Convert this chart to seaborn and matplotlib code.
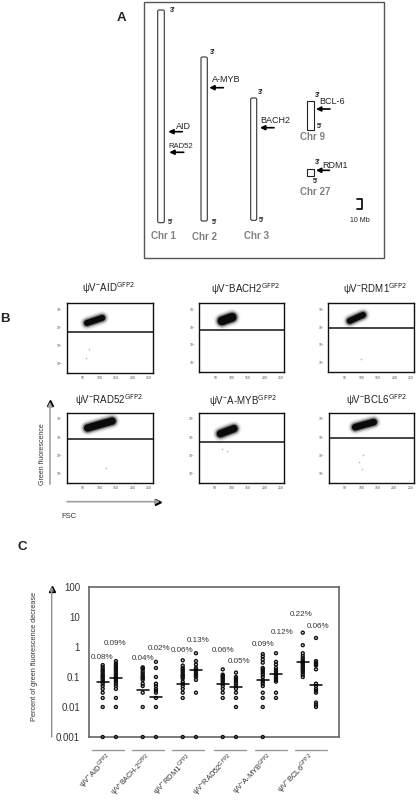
import matplotlib

matplotlib.use("Agg")
import matplotlib.pyplot as plt
from matplotlib.patches import FancyBboxPatch, Rectangle
import pandas as pd
import seaborn as sns

W, H = 417, 800

# panel A, all in reference pixels
chrom_names = ["Chr 1", "Chr 2", "Chr 3", "Chr 9", "Chr 27"]
chrom_left = [157.7, 201, 250.7, 307.3, 307.3]
chrom_right = [164.3, 207.3, 256.7, 313.7, 313.7]
chrom_top = [10, 57, 98, 101.3, 169.3]
chrom_bottom = [222.7, 221, 220.3, 129.7, 175.7]
chrom_label_x = [163.3, 204.7, 256.7, 313, 315]
chrom_label_y = [236.3, 237, 235.7, 137, 192.3]
three_x = [169.7, 210, 257.7, 315, 315]
three_y = [10, 52.7, 92.3, 95.3, 162.7]
five_x = [167.7, 212, 259.3, 316.7, 313.3]
five_y = [222.3, 222.3, 220, 127, 181.3]
genes = ["AID", "RAD52", "A-MYB", "BACH2", "BCL-6", "RDM1"]
gene_x = [175.7, 168, 212.3, 260.7, 319.3, 322.7]
gene_y = [126.7, 146, 80, 120.7, 101.7, 165]
gene_size = [6.5, 5.5, 6.5, 6.5, 6.5, 6.5]
arrow_tip = [168.3, 169.3, 209.3, 260, 316, 316]
arrow_tail = [182.3, 183.7, 223.3, 274, 330, 329.5]
arrow_y = [131.7, 152.3, 87.7, 127.7, 109, 170.3]

# panel B
flow_titles = ["AID", "BACH2", "RDM1", "RAD52", "A-MYB", "BCL6"]
flow_title_x = [109, 245.7, 375.7, 109, 243, 376.7]
flow_title_y = [288, 289, 289, 400, 401, 400]
flow_left = [66.5, 199, 328.3, 66.5, 198.7, 328.7]
flow_right = [152.5, 284.3, 414.3, 152.5, 284.3, 414]
flow_top = [303.3, 303, 303, 412.7, 412.7, 412.7]
flow_bottom = [373.3, 372.5, 372.5, 483.3, 483, 483]
gate_log = [3.74, 3.80, 3.91, 3.89, 3.72, 3.94]
cloud_fsc = [[62, 85, 108], [70, 85, 101], [65, 85, 105], [64, 100, 138], [66, 86, 107], [81, 108, 137]]
cloud_log = [[4.24, 4.38, 4.52], [4.33, 4.43, 4.53], [4.33, 4.50, 4.66], [4.49, 4.68, 4.87], [4.17, 4.31, 4.45], [4.53, 4.67, 4.81]]
cloud_width = [5.0, 7.0, 5.0, 6.0, 6.0, 5.5]
stray_fsc = [[68, 58], [], [98], [118], [72, 85], [105, 92, 100]]
stray_log = [[2.8, 2.3], [], [2.2], [2.3], [3.3, 3.2], [3.0, 2.6, 2.2]]
fsc_ticks = [50, 100, 150, 200, 250]
log_ticks = [2, 3, 4, 5]

# panel C
groups = ["AID", "BACH-2", "RDM1", "RAD52", "A-MYB", "BCL6"]
series_a = [
    [0.001, 0.01, 0.02, 0.03, 0.04, 0.05, 0.06, 0.07, 0.08, 0.09, 0.1, 0.11, 0.12, 0.14, 0.16, 0.18, 0.21, 0.25],
    [0.001, 0.01, 0.03, 0.05, 0.06, 0.08, 0.09, 0.1, 0.11, 0.13, 0.15, 0.18, 0.2, 0.21],
    [0.001, 0.02, 0.03, 0.04, 0.05, 0.06, 0.07, 0.09, 0.1, 0.11, 0.12, 0.14, 0.16, 0.18, 0.2, 0.24, 0.36],
    [0.001, 0.02, 0.03, 0.04, 0.05, 0.06, 0.07, 0.08, 0.09, 0.1, 0.11, 0.12, 0.18],
    [0.001, 0.01, 0.02, 0.03, 0.05, 0.06, 0.07, 0.08, 0.1, 0.12, 0.14, 0.16, 0.18, 0.2, 0.3, 0.38, 0.48, 0.58],
    [0.1, 0.12, 0.14, 0.16, 0.18, 0.2, 0.22, 0.25, 0.28, 0.3, 0.32, 0.36, 0.42, 0.5, 0.62, 1.15, 3.0],
]
series_b = [
    [0.001, 0.01, 0.02, 0.04, 0.05, 0.06, 0.07, 0.08, 0.09, 0.1, 0.11, 0.12, 0.14, 0.16, 0.18, 0.2, 0.22, 0.25, 0.28, 0.34],
    [0.001, 0.01, 0.02, 0.03, 0.035, 0.04, 0.05, 0.06, 0.1, 0.2, 0.32],
    [0.001, 0.03, 0.08, 0.1, 0.11, 0.12, 0.14, 0.16, 0.18, 0.2, 0.26, 0.34, 0.62],
    [0.001, 0.01, 0.02, 0.03, 0.04, 0.05, 0.06, 0.07, 0.08, 0.09, 0.1, 0.14],
    [0.02, 0.03, 0.07, 0.08, 0.09, 0.1, 0.11, 0.13, 0.15, 0.17, 0.2, 0.26, 0.32, 0.62],
    [0.01, 0.012, 0.014, 0.03, 0.035, 0.04, 0.05, 0.06, 0.18, 0.24, 0.26, 0.28, 0.3, 0.34, 2.0],
]
median_a = [0.07, 0.036, 0.058, 0.06, 0.08, 0.31]
median_b = [0.09, 0.021, 0.17, 0.047, 0.125, 0.055]
pct_labels = ["0.08%", "0.09%", "0.04%", "0.02%", "0.06%", "0.13%", "0.06%", "0.05%", "0.09%", "0.12%", "0.22%", "0.06%"]
pct_x = [102, 115, 142.7, 159, 182, 198.3, 222.7, 238.7, 262.7, 281.7, 301, 318.3]
pct_y = [657.3, 643.3, 658.3, 648.7, 650.7, 641, 650, 661.3, 644.3, 632.7, 615, 626]
y_ticks = [0.001, 0.01, 0.1, 1, 10, 100]
y_tick_labels = ["0.001", "0.01", "0.1", "1", "10", "100"]
line_left = [92.3, 132, 172.3, 214.3, 255, 295.3]
line_right = [124, 164, 204, 246, 286.7, 327]
name_x = [110.7, 150, 191.3, 232.3, 271.7, 313]
name_size = [5.6, 5.1, 5.6, 5.4, 5.4, 5.6]


def axes_px(fig, left, right, top, bottom):
    return fig.add_axes([left / W, 1 - bottom / H, (right - left) / W, (bottom - top) / H])


def psi_name(name):
    return r"$\psi$V$^{-}$" + name + r"$^{\mathrm{GFP2}}$"


def arrow(ax, tip, tail, color="black", lw=1.2, size=7):
    ax.annotate("", xy=tip, xytext=tail, arrowprops=dict(arrowstyle="-|>", color=color, lw=lw, mutation_scale=size, shrinkA=0, shrinkB=0))


def draw_panel_a(ov):
    ov.add_patch(Rectangle((144.3, 1.5), 239.7, 256.5, fill=False, ec="#555555", lw=1.0))
    for i, name in enumerate(chrom_names):
        width = chrom_right[i] - chrom_left[i]
        height = chrom_bottom[i] - chrom_top[i]
        if height > 50:
            ov.add_patch(FancyBboxPatch((chrom_left[i] + 1, chrom_top[i] + 1), width - 2, height - 2,
                                        boxstyle="round,pad=1,rounding_size=1.5", fc="white", ec="#333333", lw=0.8))
        else:
            ov.add_patch(Rectangle((chrom_left[i], chrom_top[i]), width, height, fc="white", ec="#222222", lw=0.8))
        ov.text(chrom_label_x[i], chrom_label_y[i], name, color="#808080", fontsize=7, fontweight="bold", ha="center", va="center")
        ov.text(three_x[i], three_y[i], "3'", fontsize=5, fontweight="bold", color="#222222", va="center")
        ov.text(five_x[i], five_y[i], "5'", fontsize=5, fontweight="bold", color="#222222", va="center")
    for i, gene in enumerate(genes):
        ov.text(gene_x[i], gene_y[i], gene, fontsize=gene_size[i], color="#222222", va="center")
        arrow(ov, (arrow_tip[i], arrow_y[i]), (arrow_tail[i], arrow_y[i]))
    ov.plot([357, 362.3, 362.3, 357], [199, 199, 209.3, 209.3], color="black", lw=1.2)
    ov.text(360, 220, "10 Mb", fontsize=5, color="#222222", ha="center", va="center")


def draw_flow(fig, ov):
    for i, name in enumerate(flow_titles):
        ax = axes_px(fig, flow_left[i], flow_right[i], flow_top[i], flow_bottom[i])
        # dense cell cloud: fading layers around the spine
        for extra, shade, alpha in [(5.0, "#888888", 0.15), (3.0, "#555555", 0.25), (1.2, "#333333", 0.5), (-0.6, "#0a0a0a", 1.0)]:
            sns.lineplot(x=cloud_fsc[i], y=cloud_log[i], ax=ax, color=shade, lw=cloud_width[i] + extra, alpha=alpha,
                         estimator=None, sort=False, solid_capstyle="round")
        if stray_fsc[i]:
            sns.scatterplot(x=stray_fsc[i], y=stray_log[i], ax=ax, color="#bbbbbb", s=1.5, linewidth=0)
        ax.axhline(gate_log[i], color="#111111", lw=1.1)
        ax.set_xlim(0, 260)
        ax.set_ylim(1.45, 5.33)
        ax.set_xticks(fsc_ticks)
        ax.set_xticklabels([str(t) for t in fsc_ticks])
        ax.set_xticks(range(10, 260, 10), minor=True)
        ax.set_yticks(log_ticks)
        ax.set_yticklabels([f"$10^{t}$" for t in log_ticks])
        ax.tick_params(axis="both", which="major", labelsize=2.5, length=1.5, width=0.4, pad=0.8, color="#555555", labelcolor="#555555")
        ax.tick_params(axis="x", which="minor", length=0.9, width=0.3, color="#555555")
        for spine in ax.spines.values():
            spine.set_visible(True)
            spine.set_linewidth(1.0)
            spine.set_color("#111111")
        ov.text(flow_title_x[i], flow_title_y[i], psi_name(name), fontsize=7, color="#222222", ha="center", va="center")

    arrow(ov, (50, 401.7), (50, 484), color="#a0a0a0", lw=1.2, size=6)
    ov.plot([50], [403], marker="^", ms=4, color="black")
    arrow(ov, (160, 501.7), (67, 501.7), color="#a0a0a0", lw=1.2, size=6)
    ov.plot([158.5], [501.7], marker=">", ms=4, color="black")
    ov.text(42.3, 454, "Green fluorescence", rotation=90, fontsize=5, color="#333333", ha="center", va="center")
    ov.text(69, 516.7, "FSC", fontsize=5.5, color="#333333", ha="center", va="center")


def draw_panel_c(fig, ov):
    ax = axes_px(fig, 88.5, 339, 587, 737)
    rows = []
    for i, group in enumerate(groups):
        for value in series_a[i]:
            rows.append({"group": group, "pos": i - 0.165, "value": value})
        for value in series_b[i]:
            rows.append({"group": group, "pos": i + 0.165, "value": value})
    df = pd.DataFrame(rows)
    sns.scatterplot(data=df, x="pos", y="value", ax=ax, marker="o", s=4.5, facecolor="none", edgecolor="#111111", linewidth=1.0, clip_on=False, zorder=3)
    for i in range(len(groups)):
        ax.plot([i - 0.165 - 0.15, i - 0.165 + 0.15], [median_a[i]] * 2, color="black", lw=1.1, zorder=4)
        ax.plot([i + 0.165 - 0.15, i + 0.165 + 0.15], [median_b[i]] * 2, color="black", lw=1.1, zorder=4)
    ax.set_yscale("log")
    ax.set_xlim(-0.52, 5.74)
    ax.set_ylim(0.001, 100)
    ax.set_xticks([])
    ax.set_yticks(y_ticks)
    ax.set_yticklabels(y_tick_labels)
    ax.minorticks_off()
    ax.tick_params(axis="y", length=0, pad=6, labelsize=7, labelcolor="#333333")
    ax.set_xlabel("")
    ax.set_ylabel("")
    for spine in ax.spines.values():
        spine.set_visible(True)
        spine.set_linewidth(1.2)
        spine.set_color("#666666")

    arrow(ov, (51.7, 586.7), (51.7, 737), color="#909090", lw=1.0, size=5)
    ov.plot([51.7], [589], marker="^", ms=5, color="black")
    ov.text(35, 656.7, "Percent of green fluorescence decrease", rotation=90, fontsize=5.3, color="#333333", ha="center", va="center")
    for label, x, y in zip(pct_labels, pct_x, pct_y):
        ov.text(x, y, label, fontsize=5.8, color="#333333", ha="center", va="center")
    for i, group in enumerate(groups):
        ov.plot([line_left[i], line_right[i]], [750, 750], color="#999999", lw=1.0)
        ov.text(name_x[i], 756, psi_name(group), rotation=46, rotation_mode="anchor", fontsize=name_size[i], color="#333333", ha="right", va="center")


def main() -> None:
    sns.set_theme(style="white")
    plt.rcParams["font.family"] = ["Liberation Sans", "DejaVu Sans"]
    plt.rcParams["mathtext.default"] = "regular"

    fig = plt.figure(figsize=(W / 100, H / 100), dpi=100)
    fig.patch.set_facecolor("white")

    ov = fig.add_axes([0, 0, 1, 1], zorder=5)
    ov.set_xlim(0, W)
    ov.set_ylim(H, 0)
    ov.axis("off")
    ov.patch.set_alpha(0)

    draw_panel_a(ov)
    draw_flow(fig, ov)
    draw_panel_c(fig, ov)

    ov.text(121.7, 18.3, "A", fontsize=9.5, fontweight="bold", ha="center", va="center", color="#222222")
    ov.text(5.3, 319.3, "B", fontsize=9.5, fontweight="bold", ha="center", va="center", color="#222222")
    ov.text(22.7, 547.3, "C", fontsize=9.5, fontweight="bold", ha="center", va="center", color="#222222")

    fig.savefig("out.png", dpi=100)
    plt.close(fig)


if __name__ == "__main__":
    main()
